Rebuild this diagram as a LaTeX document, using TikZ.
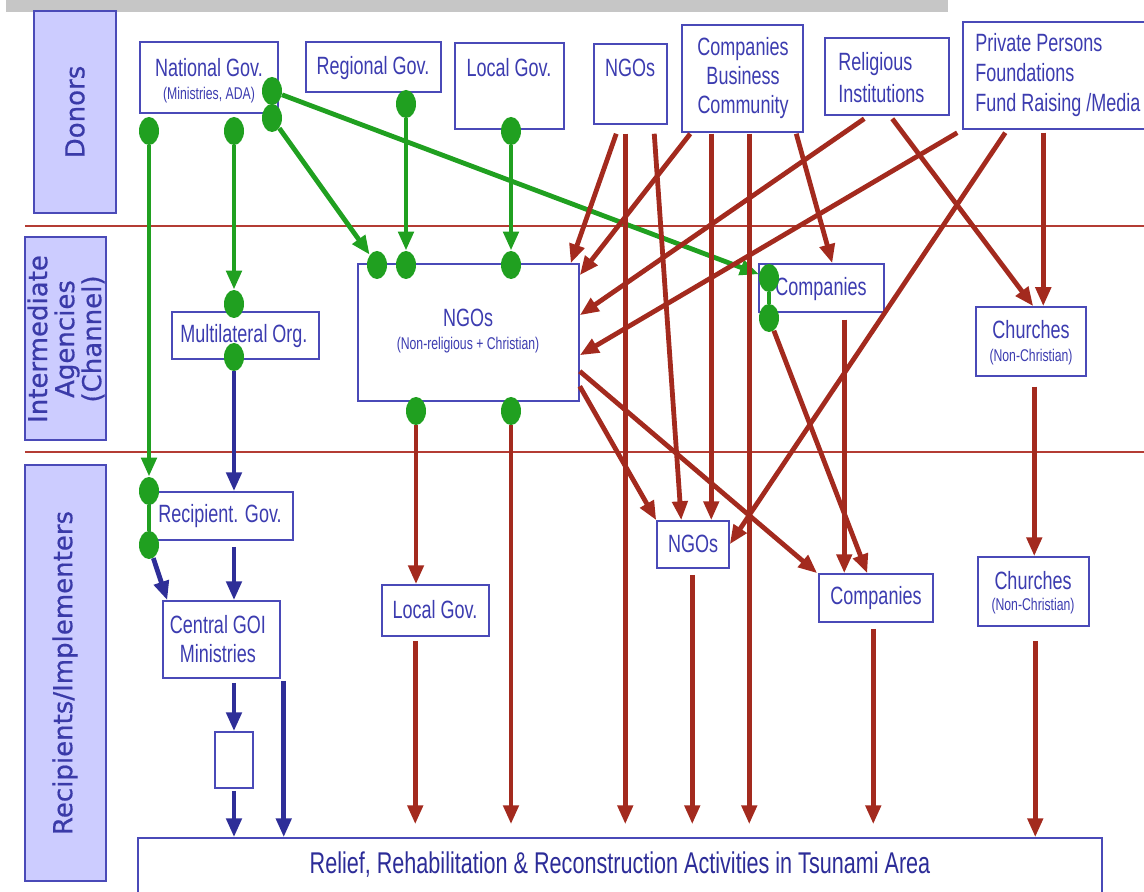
\documentclass[tikz,border=0pt]{standalone}
\usepackage{fontspec}
\newfontfamily\nar[FakeStretch=0.72]{Liberation Sans}
\newfontfamily\lanefont[FakeBold=0.6]{DejaVu Sans}
\usetikzlibrary{arrows.meta,shapes.geometric,calc}
\definecolor{boxblue}{HTML}{4A4AB8}
\definecolor{txtblue}{HTML}{3C3CB0}
\definecolor{actblue}{HTML}{2C2C98}
\definecolor{laneblue}{HTML}{3A3AA8}
\definecolor{lavender}{HTML}{CCCCFF}
\definecolor{dotgreen}{HTML}{20A020}
\definecolor{flowred}{HTML}{A32A1E}
\definecolor{flownavy}{HTML}{2E2E98}
\definecolor{sepred}{HTML}{B43C34}
\definecolor{topbar}{HTML}{C6C6C6}
\pgfdeclarelayer{back}
\pgfdeclarelayer{wires}
\pgfsetlayers{back,wires,main}
% rectangle node from its corner coordinates
\newcommand\bx[5]{\node[box, minimum width={(#4-#2)*0.5pt}, minimum height={(#5-#3)*0.5pt}] (#1) at ({(#2+#4)/2},{(#3+#5)/2}) {};}
\begin{document}
\begin{tikzpicture}[x=0.5pt,y=-0.5pt,
  box/.style={draw=boxblue, fill=white, line width=0.75pt, inner sep=0pt, rectangle},
  lanebox/.style={draw=boxblue, fill=lavender, line width=0.75pt},
  lanetxt/.style={rotate=90, align=center, text=laneblue, font=\lanefont\fontsize{13}{13.5}\selectfont},
  dot/.style={ellipse, fill=dotgreen, inner sep=0pt, minimum width=10pt, minimum height=14pt},
  flow/.style={line width=2.4pt, -{Triangle[width=7.5pt,length=9.5pt]}},
  gflow/.style={flow, draw=dotgreen},
  rflow/.style={flow, draw=flowred},
  bflow/.style={flow, draw=flownavy},
  gline/.style={line width=2.4pt, draw=dotgreen},
  toact/.style={shorten >=6.5pt},
  lbl/.style={text=txtblue, inner sep=0pt, font=\nar\fontsize{12.5}{15}\selectfont},
  sub/.style={text=txtblue, inner sep=0pt, font=\nar\fontsize{8.5}{10}\selectfont},
  sep/.style={draw=sepred, line width=1pt}]
\useasboundingbox (0,0) rectangle (1144,892);

\begin{pgfonlayer}{back}
  \fill[topbar] (6,0) rectangle (948,12);
  % lane separators
  \draw[sep] (25,226) -- (1144,226);
  \draw[sep] (25,452) -- (1144,452);
  % lane headers
  \draw[lanebox] (34,11) rectangle (116,213);
  \draw[lanebox] (25,237) rectangle (106,440);
  \draw[lanebox] (25,465) rectangle (106,881);
  % donors
  \bx{natD}{140}{42}{278}{113}
  \bx{regD}{306}{42}{441}{92}
  \bx{locD}{455}{43}{564}{129}
  \bx{ngoD}{594}{44}{667}{124}
  \bx{comD}{682}{25}{803}{132}
  \bx{relD}{825}{38}{949}{115}
  \bx{priD}{963}{22}{1150}{129}
  % intermediate agencies
  \bx{ngoI}{358}{264}{579}{401}
  \bx{comI}{759}{264}{884}{312}
  \bx{chuI}{976}{307}{1086}{376}
  \bx{mulI}{172}{312}{319}{359}
  % recipients / implementers
  \bx{recR}{150}{492}{293}{540}
  \bx{cenR}{163}{601}{280}{678}
  \bx{smlR}{215}{732}{253}{788}
  \bx{locR}{382}{585}{489}{636}
  \bx{ngoR}{657}{521}{729}{568}
  \bx{comR}{819}{574}{933}{622}
  \bx{chuR}{978}{557}{1089}{626}
  \bx{relief}{138}{838}{1102}{900}
\end{pgfonlayer}

% lane titles
\node[lanetxt] at (75,112) {Donors};
\node[lanetxt] at (66,339) {Intermediate\\Agencies\\(Channel)};
\node[lanetxt] at (65,673) {Recipients/Implementers};

% box texts
\node[lbl] at (209,68) {National Gov.};
\node[sub] at (209,95) {(Ministries, ADA)};
\node[lbl] at (373,68) {Regional Gov.};
\node[lbl] at (509,68) {Local Gov.};
\node[lbl] at (630,68) {NGOs};
\node[lbl, align=center, font=\nar\fontsize{12.5}{14.3}\selectfont] at (743,78) {Companies\\Business\\Community};
\node[lbl, align=left, anchor=west, font=\nar\fontsize{12.5}{16}\selectfont] at (838,78) {Religious\\Institutions};
\node[lbl, align=left, anchor=west] at (975,75) {Private Persons\\Foundations\\Fund Raising /Media};
\node[lbl] at (468,318) {NGOs};
\node[sub] at (468,345) {(Non-religious + Christian)};
\node[lbl] at (821,289) {Companies};
\node[lbl] at (1031,330) {Churches};
\node[sub] at (1031,357) {(Non-Christian)};
\node[lbl] at (244,336) {Multilateral Org.};
\node[lbl] at (220,516) {Recipient. Gov.};
\node[lbl, align=center, font=\nar\fontsize{12.5}{14.5}\selectfont] at (218,639) {Central GOI\\Ministries};
\node[lbl] at (435,610) {Local Gov.};
\node[lbl] at (693,544) {NGOs};
\node[lbl] at (876,598) {Companies};
\node[lbl] at (1033,581) {Churches};
\node[sub] at (1033,606) {(Non-Christian)};
\node[text=actblue, inner sep=0pt, font=\nar\fontsize{15}{18}\selectfont] at (620,865) {Relief, Rehabilitation \& Reconstruction Activities in Tsunami Area};

% green transfer points
\node[dot] (g1) at (149,131) {};
\node[dot] (g2) at (234,131) {};
\node[dot] (g3) at (272,91) {};
\node[dot] (g4) at (272,118) {};
\node[dot] (g5) at (406,104) {};
\node[dot] (g6) at (511,131) {};
\node[dot] (g7) at (377,265) {};
\node[dot] (g8) at (406,265) {};
\node[dot] (g9) at (511,265) {};
\node[dot] (g10) at (234,304) {};
\node[dot] (g11) at (234,357) {};
\node[dot] (g12) at (769,278) {};
\node[dot] (g13) at (769,318) {};
\node[dot] (g14) at (416,411) {};
\node[dot] (g15) at (511,411) {};
\node[dot] (g16) at (149,491) {};
\node[dot] (g17) at (149,545) {};

\begin{pgfonlayer}{wires}
  % public funds
  \draw[gflow] (g1) -- (g16);
  \draw[gflow] (g2) -- (g10);
  \draw[gflow] (g3) -- (g12);
  \draw[gflow] (g4) -- (g7);
  \draw[gflow] (g5) -- (g8);
  \draw[gflow] (g6) -- (g9);
  \draw[gline] (g12) -- (g13);
  \draw[gline] (g16) -- (g17);

  % government channel
  \draw[bflow] (g11) -- (g11 |- recR.north);
  \draw[bflow] ($(g11 |- recR.south)+(0,6)$) -- (g11 |- cenR.north);
  \draw[bflow] (g17) -- ($(cenR.north west)+(5,0)$);
  \draw[bflow] ($(g11 |- cenR.south)+(0,4)$) -- (smlR.north);
  \draw[bflow] ($(smlR.south)+(0,2)$) -- (smlR.south |- relief.north);
  \draw[bflow] ($(cenR.south east)+(3,2)$) coordinate (c1) -- (c1 |- relief.north);

  % private and NGO funds
  \draw[rflow] ($(ngoD.south west)+(23,9)$) -- ($(ngoI.north east)+(-9,0)$);
  \draw[rflow,toact] ($(ngoD.south west)+(32,9)$) coordinate (r2) -- (r2 |- relief.north);
  \draw[rflow] ($(ngoD.south west)+(61,9)$) -- ($(ngoR.north west)+(25,0)$);
  \draw[rflow] ($(comD.south west)+(9,1)$) -- ($(ngoI.north east)+(0,12)$);
  \draw[rflow] ($(comD.south west)+(30,1)$) -- ($(ngoR.north west)+(55,0)$);
  \draw[rflow,toact] ($(comD.south west)+(68,1)$) coordinate (r6) -- (r6 |- relief.north);
  \draw[rflow] ($(comD.south west)+(115,1)$) -- ($(comI.north west)+(74,0)$);
  \draw[rflow] ($(relD.south west)+(40,3)$) -- ($(ngoI.north east)+(0,52)$);
  \draw[rflow] ($(relD.south west)+(68,3)$) -- ($(chuI.north west)+(58,0)$);
  \draw[rflow] ($(priD.south west)+(-5,3)$) -- ($(ngoI.north east)+(0,92)$);
  \draw[rflow] ($(priD.south west)+(43,3)$) -- ($(ngoR.north east)+(0,24)$);
  \draw[rflow] ($(priD.south west)+(81,3)$) -- ($(chuI.north west)+(68,0)$);
  \draw[rflow] ($(comI.south west)+(86,7)$) -- ($(comR.north west)+(26,0)$);
  \draw[rflow] (g13) -- ($(comR.north west)+(49,0)$);
  \draw[rflow] ($(ngoI.north east)+(0,108)$) -- ($(comR.north west)+(-1,0)$);
  \draw[rflow] ($(ngoI.north east)+(0,123)$) -- (ngoR.north west);
  \draw[rflow] (g14) -- (g14 |- locR.north);
  \draw[rflow,toact] (g15) -- (g15 |- relief.north);
  \draw[rflow] ($(chuI.south west)+(59,10)$) -- ($(chuR.north west)+(57,0)$);
  \draw[rflow] ($(chuR.south west)+(58,14)$) coordinate (r20) -- (r20 |- relief.north);
  \draw[rflow,toact] ($(comR.south west)+(55,6)$) coordinate (r21) -- (r21 |- relief.north);
  \draw[rflow,toact] ($(ngoR.south west)+(36,6)$) coordinate (r22) -- (r22 |- relief.north);
  \draw[rflow,toact] ($(locR.south west)+(34,4)$) coordinate (r23) -- (r23 |- relief.north);
\end{pgfonlayer}
\end{tikzpicture}
\end{document}
